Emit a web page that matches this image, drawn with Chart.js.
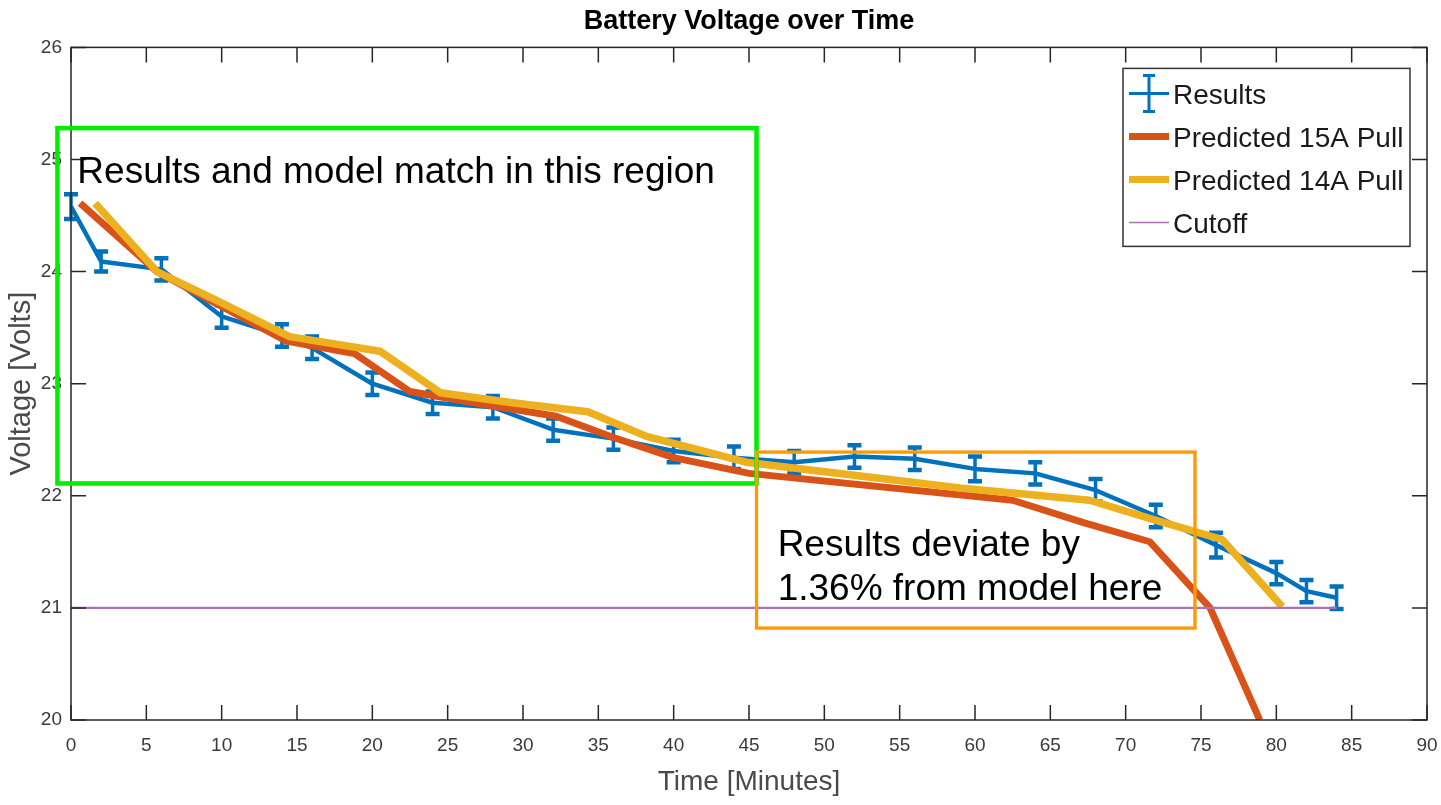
<!DOCTYPE html>
<html>
<head>
<meta charset="utf-8">
<title>Battery Voltage over Time</title>
<script src="https://cdn.jsdelivr.net/npm/chart.js@4.4.1/dist/chart.umd.min.js"></script>
<style>
    html, body { margin: 0; padding: 0; background: #fff; }
    #wrap { width: 1441px; height: 805px; }
</style>
</head>
<body>
<div id="wrap"><canvas id="voltChart" width="1441" height="805"></canvas></div>
<script>
// Measured results (minutes, volts, +/- error)
const resultTimes = [0, 2, 6, 10, 14, 16, 20, 24, 28, 32, 36, 40, 44, 48, 52, 56, 60, 64, 68, 72, 76, 80, 82, 84];
const resultVolts = [24.58, 24.09, 24.02, 23.60, 23.43, 23.32, 23.00, 22.83, 22.79, 22.59, 22.51, 22.40, 22.34, 22.30, 22.35, 22.33, 22.24, 22.20, 22.05, 21.82, 21.56, 21.31, 21.15, 21.09];
const resultErrors = [0.11, 0.09, 0.10, 0.10, 0.10, 0.10, 0.10, 0.10, 0.10, 0.10, 0.10, 0.10, 0.10, 0.10, 0.10, 0.10, 0.11, 0.10, 0.10, 0.10, 0.11, 0.10, 0.10, 0.10];

// Model predictions
const pred15Times = [0.6, 5.7, 14.3, 18.8, 22.5, 27.6, 32.2, 36, 40, 45, 62.5, 67.2, 71.6, 75.6, 78.9];
const pred15Volts = [24.61, 24.00, 23.38, 23.27, 22.93, 22.81, 22.71, 22.52, 22.34, 22.20, 21.96, 21.76, 21.59, 21.00, 20.00];
const pred14Times = [1.6, 5.7, 10, 14.5, 20.5, 24.5, 29.3, 34.3, 38.2, 44.8, 59, 67.6, 71.8, 76.4, 80.4];
const pred14Volts = [24.61, 24.00, 23.72, 23.42, 23.29, 22.92, 22.83, 22.75, 22.53, 22.30, 22.07, 21.96, 21.79, 21.61, 21.01];

// Cutoff voltage
const cutoffTimes = [0, 84];
const cutoffVolts = [21, 21];

// Axis ticks
const xTickValues = [0, 5, 10, 15, 20, 25, 30, 35, 40, 45, 50, 55, 60, 65, 70, 75, 80, 85, 90];
const yTickValues = [20, 21, 22, 23, 24, 25, 26];

// Callout boxes (data coordinates)
const callouts = [
    { x0: -0.9, x1: 45.5, y0: 25.28, y1: 22.11, color: '#00ee00', width: 4.5,
      lines: ['Results and model match in this region'], tx: 0.42, ty: [24.79] },
    { x0: 45.5, x1: 74.6, y0: 22.39, y1: 20.82, color: '#ff9900', width: 3.3,
      lines: ['Results deviate by', '1.36% from model here'], tx: 46.9, ty: [21.46, 21.07] }
];

const FONT = "'Liberation Sans', Arial, Helvetica, sans-serif";
const AXIS_COLOR = '#262626';

function toPoints(xs, ys) {
    return xs.map((x, i) => ({ x: x, y: ys[i] }));
}

// error bars for the results series, drawn right after its line
const errorBarPlugin = {
    id: 'errorBars',
    afterDatasetDraw(chart, args) {
        const ds = chart.data.datasets[args.index];
        if (!ds.errors) return;
        const { ctx, scales: { x, y } } = chart;
        ctx.save();
        ctx.strokeStyle = ds.borderColor;
        ds.data.forEach((p, i) => {
            const px = x.getPixelForValue(p.x);
            const top = y.getPixelForValue(p.y + ds.errors[i]);
            const bot = y.getPixelForValue(p.y - ds.errors[i]);
            ctx.lineWidth = 3.5;
            ctx.beginPath();
            ctx.moveTo(px, top); ctx.lineTo(px, bot);
            ctx.stroke();
            ctx.lineWidth = 4.5;
            ctx.beginPath();
            ctx.moveTo(px - 7, top); ctx.lineTo(px + 7, top);
            ctx.moveTo(px - 7, bot); ctx.lineTo(px + 7, bot);
            ctx.stroke();
        });
        ctx.restore();
    }
};

// matlab style box with inward ticks on every side
const boxPlugin = {
    id: 'axesBox',
    afterDatasetsDraw(chart) {
        const { ctx, chartArea: a, scales: { x, y } } = chart;
        const tl = 15;
        ctx.save();
        ctx.strokeStyle = AXIS_COLOR;
        ctx.lineWidth = 1.5;
        ctx.strokeRect(a.left, a.top, a.right - a.left, a.bottom - a.top);
        ctx.beginPath();
        xTickValues.forEach(v => {
            const px = x.getPixelForValue(v);
            ctx.moveTo(px, a.bottom); ctx.lineTo(px, a.bottom - tl);
            ctx.moveTo(px, a.top); ctx.lineTo(px, a.top + tl);
        });
        yTickValues.forEach(v => {
            const py = y.getPixelForValue(v);
            ctx.moveTo(a.left, py); ctx.lineTo(a.left + tl, py);
            ctx.moveTo(a.right, py); ctx.lineTo(a.right - tl, py);
        });
        ctx.stroke();
        ctx.restore();
    }
};

// callouts + legend on top
const overlayPlugin = {
    id: 'overlay',
    afterDraw(chart) {
        const { ctx, chartArea: a, scales: { x, y } } = chart;
        ctx.save();
        callouts.forEach(c => {
            const l = x.getPixelForValue(c.x0), r = x.getPixelForValue(c.x1);
            const t = y.getPixelForValue(c.y0), b = y.getPixelForValue(c.y1);
            ctx.strokeStyle = c.color;
            ctx.lineWidth = c.width;
            ctx.strokeRect(l, t, r - l, b - t);
            ctx.fillStyle = '#000';
            ctx.font = '37px ' + FONT;
            ctx.textBaseline = 'alphabetic';
            ctx.textAlign = 'left';
            c.lines.forEach((txt, i) => {
                ctx.fillText(txt, x.getPixelForValue(c.tx), y.getPixelForValue(c.ty[i]));
            });
        });

        // legend
        const w = 287, h = 178;
        const lx = a.right - 17 - w, ly = a.top + 21;
        ctx.fillStyle = '#fff';
        ctx.fillRect(lx, ly, w, h);
        ctx.strokeStyle = '#333';
        ctx.lineWidth = 1.5;
        ctx.strokeRect(lx, ly, w, h);
        ctx.font = '28px ' + FONT;
        ctx.textBaseline = 'middle';
        ctx.fillStyle = '#1a1a1a';
        chart.data.datasets.forEach((ds, i) => {
            const rowY = ly + 28 + i * 43;
            const ly2 = rowY - 3;
            ctx.strokeStyle = ds.borderColor;
            ctx.lineWidth = ds.legendWidth;
            ctx.beginPath();
            ctx.moveTo(lx + 6, ly2); ctx.lineTo(lx + 46, ly2);
            ctx.stroke();
            if (ds.errors) {
                const cx = lx + 26;
                ctx.lineWidth = 3;
                ctx.beginPath();
                ctx.moveTo(cx, ly2 - 18); ctx.lineTo(cx, ly2 + 18);
                ctx.moveTo(cx - 6, ly2 - 18); ctx.lineTo(cx + 6, ly2 - 18);
                ctx.moveTo(cx - 6, ly2 + 18); ctx.lineTo(cx + 6, ly2 + 18);
                ctx.stroke();
            }
            ctx.fillText(ds.label, lx + 50, rowY);
        });
        ctx.restore();
    }
};

const ctx = document.getElementById('voltChart').getContext('2d');
const chart = new Chart(ctx, {
    type: 'line',
    data: {
        datasets: [
            { label: 'Results', data: toPoints(resultTimes, resultVolts), errors: resultErrors,
              borderColor: '#0072BD', borderWidth: 4.5, legendWidth: 3, order: 4 },
            { label: 'Predicted 15A Pull', data: toPoints(pred15Times, pred15Volts),
              borderColor: '#D95319', borderWidth: 7, legendWidth: 7, order: 3 },
            { label: 'Predicted 14A Pull', data: toPoints(pred14Times, pred14Volts),
              borderColor: '#EDB120', borderWidth: 7.5, legendWidth: 7, order: 2 },
            { label: 'Cutoff', data: toPoints(cutoffTimes, cutoffVolts),
              borderColor: '#a772b8', borderWidth: 2.2, legendWidth: 1.5, order: 1 }
        ]
    },
    options: {
        responsive: false,
        animation: false,
        events: [],
        elements: {
            point: { radius: 0 },
            line: { tension: 0, borderJoinStyle: 'round', fill: false }
        },
        layout: { padding: { right: 14, left: 0, top: 0, bottom: 0 } },
        plugins: {
            legend: { display: false },
            tooltip: { enabled: false },
            title: {
                display: true,
                text: 'Battery Voltage over Time',
                fullSize: false,
                color: '#000',
                font: { family: FONT, size: 27, weight: 'bold' },
                padding: { top: 5, bottom: 10 }
            }
        },
        scales: {
            x: {
                type: 'linear',
                min: 0,
                max: 90,
                afterBuildTicks: s => { s.ticks = xTickValues.map(v => ({ value: v })); },
                afterFit: s => { s.height = 85; s.paddingLeft = 0; s.paddingRight = 0; },
                grid: { display: false, drawTicks: false },
                border: { display: false },
                ticks: { color: '#3a3a3a', padding: 14, maxRotation: 0, autoSkip: false,
                         font: { family: FONT, size: 19 } },
                title: { display: true, text: 'Time [Minutes]', color: '#4a4a4a',
                         font: { family: FONT, size: 28 }, padding: { top: 0, bottom: 6 } }
            },
            y: {
                min: 20,
                max: 26,
                afterBuildTicks: s => { s.ticks = yTickValues.map(v => ({ value: v })); },
                afterFit: s => { s.width = 71; s.paddingTop = 0; s.paddingBottom = 0; },
                grid: { display: false, drawTicks: false },
                border: { display: false },
                ticks: { color: '#3a3a3a', padding: 9, autoSkip: false,
                         font: { family: FONT, size: 19 } },
                title: { display: true, text: 'Voltage [Volts]', color: '#4a4a4a',
                         font: { family: FONT, size: 29 }, padding: { top: 5, bottom: 0 } }
            }
        }
    },
    plugins: [errorBarPlugin, boxPlugin, overlayPlugin]
});
</script>
</body>
</html>
